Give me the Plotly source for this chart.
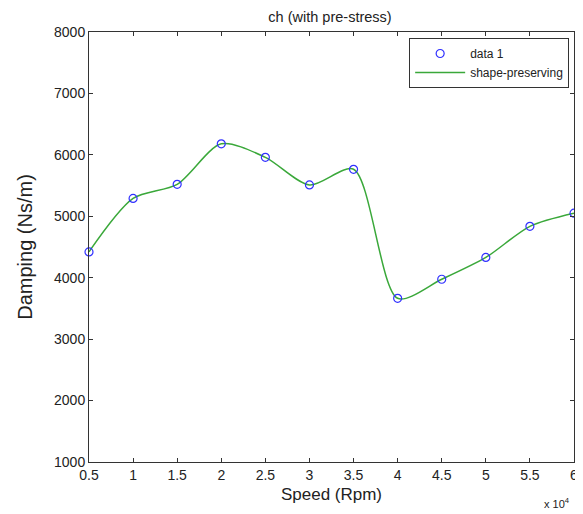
import plotly.graph_objects as go

speed = [5000, 10000, 15000, 20000, 25000, 30000, 35000, 40000, 45000, 50000, 55000, 60000]
damping = [4420, 5290, 5520, 6180, 5960, 5510, 5765, 3665, 3975, 4330, 4837, 5050]

x_tickvals = [5000, 10000, 15000, 20000, 25000, 30000, 35000, 40000, 45000, 50000, 55000, 60000]
x_ticktext = ["0.5", "1", "1.5", "2", "2.5", "3", "3.5", "4", "4.5", "5", "5.5", "6"]
y_tickvals = [1000, 2000, 3000, 4000, 5000, 6000, 7000, 8000]

fig = go.Figure()
fig.add_trace(go.Scatter(
    x=speed, y=damping, mode="lines", name="shape-preserving", cliponaxis=False,
    line=dict(color="#3aa83a", width=1.5, shape="spline", smoothing=0.8),
))
fig.add_trace(go.Scatter(
    x=speed, y=damping, mode="markers", name="data 1", cliponaxis=False,
    marker=dict(symbol="circle-open", color="#3030ff", size=8, line=dict(width=1.2)),
))

axis_common = dict(
    showgrid=False, zeroline=False, showline=True, linecolor="#333333", linewidth=1,
    mirror="ticks", ticks="inside", ticklen=4, tickcolor="#333333",
    tickfont=dict(size=14, color="#222222"), automargin=False,
)

# page has an 8px body margin, so the figure is sized to fit the window
fig.update_layout(
    width=575, height=506,
    margin=dict(l=81, r=9, t=24, b=52),
    paper_bgcolor="white", plot_bgcolor="white",
    font=dict(family="Liberation Sans, Arial, sans-serif", color="#222222"),
    title=dict(text="ch (with pre-stress)", x=0.56, xanchor="center", y=0.982, yanchor="middle",
               font=dict(size=14.5)),
    xaxis=dict(range=[5000, 60000], tickvals=x_tickvals, ticktext=x_ticktext,
               title=dict(text="Speed (Rpm)", font=dict(size=17), standoff=6), **axis_common),
    yaxis=dict(range=[1000, 8000], tickvals=y_tickvals,
               title=dict(text="Damping (Ns/m)", font=dict(size=20), standoff=16), **axis_common),
    legend=dict(x=0.99, y=0.986, xanchor="right", yanchor="top", bgcolor="white",
                bordercolor="#333333", borderwidth=1, font=dict(size=12),
                traceorder="reversed", itemwidth=50),
    showlegend=True,
)
fig.add_annotation(text="x 10<sup>4</sup>", xref="paper", yref="paper", x=0.995, y=-0.075,
                   xanchor="right", yanchor="top", showarrow=False, font=dict(size=11))

fig.write_html("out.html")
